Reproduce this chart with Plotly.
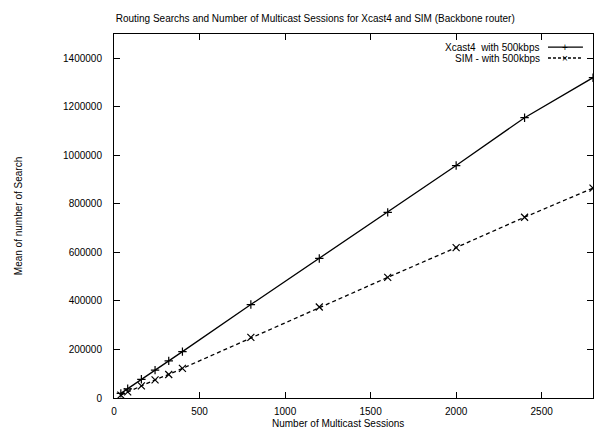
import plotly.graph_objects as go

sessions = [40, 80, 160, 240, 320, 400, 800, 1200, 1600, 2000, 2400, 2800]
xcast4 = [19000, 38000, 77000, 115000, 153000, 191000, 385000, 575000, 765000, 958000, 1155000, 1320000]
sim = [12000, 25000, 50000, 75000, 97000, 122000, 250000, 375000, 497000, 620000, 745000, 865000]
names = ["Xcast4  with 500kbps", "SIM - with 500kbps"]

FONT = "Liberation Sans, Arial, sans-serif"
FS = 10

fig = go.Figure()
fig.add_trace(go.Scatter(x=sessions, y=xcast4, mode="lines+markers", name=names[0],
                         line=dict(color="black", width=1.3),
                         marker=dict(symbol="cross-thin", size=6, line=dict(color="black", width=1.2)),
                         showlegend=False, cliponaxis=True))
fig.add_trace(go.Scatter(x=sessions, y=sim, mode="lines+markers", name=names[1],
                         line=dict(color="black", width=1.3, dash="4px,3px"),
                         marker=dict(symbol="x-thin", size=7, line=dict(color="black", width=1.2)),
                         showlegend=False, cliponaxis=True))

# legend (gnuplot style: text then sample)
leg_y = [0.964, 0.934]
dashes = ["solid", "3px,2px"]
marks = ["+", "×"]
for i in range(2):
    fig.add_annotation(x=0.894, y=leg_y[i], xref="paper", yref="paper", text=names[i],
                       showarrow=False, xanchor="right", yanchor="middle",
                       font=dict(family=FONT, size=FS, color="black"))
    fig.add_shape(type="line", xref="paper", yref="paper", x0=0.906, x1=0.979,
                  y0=leg_y[i], y1=leg_y[i], line=dict(color="black", width=1.3, dash=dashes[i]))
    fig.add_annotation(x=0.942, y=leg_y[i], xref="paper", yref="paper", text=marks[i],
                       showarrow=False, xanchor="center", yanchor="middle",
                       font=dict(family=FONT, size=FS, color="black"))

fig.add_annotation(x=-0.2, y=0.5, xref="paper", yref="paper", text="Mean of number of Search",
                   showarrow=False, textangle=-90, xanchor="center", yanchor="middle",
                   font=dict(family=FONT, size=FS, color="black"))
fig.add_annotation(x=0.468, y=-0.069, xref="paper", yref="paper", text="Number of Multicast Sessions",
                   showarrow=False, xanchor="center", yanchor="middle",
                   font=dict(family=FONT, size=FS, color="black"))

fig.update_layout(
    width=597, height=431,
    margin=dict(l=114, r=4, t=34, b=33),
    paper_bgcolor="white", plot_bgcolor="white",
    font=dict(family=FONT, size=FS, color="black"),
    title=dict(text="Routing Searchs and Number of Multicast Sessions for Xcast4 and SIM (Backbone router)",
               x=0.528, xref="container", xanchor="center", y=0.958, yref="container",
               yanchor="middle", font=dict(family=FONT, size=FS, color="black")),
    showlegend=False,
)
fig.update_xaxes(range=[0, 2800], tickvals=[0, 500, 1000, 1500, 2000, 2500],
                 ticks="inside", ticklen=6, tickcolor="black", showline=True, linecolor="black",
                 linewidth=1, mirror="ticks", showgrid=False, zeroline=False, ticklabelstandoff=4)
fig.update_yaxes(range=[0, 1500000], tickvals=[0, 200000, 400000, 600000, 800000, 1000000, 1200000, 1400000],
                 tickformat="d", ticks="inside", ticklen=6, tickcolor="black", showline=True,
                 linecolor="black", linewidth=1, mirror="ticks", showgrid=False, zeroline=False,
                 ticklabelstandoff=9)

fig.write_html("out.html")
